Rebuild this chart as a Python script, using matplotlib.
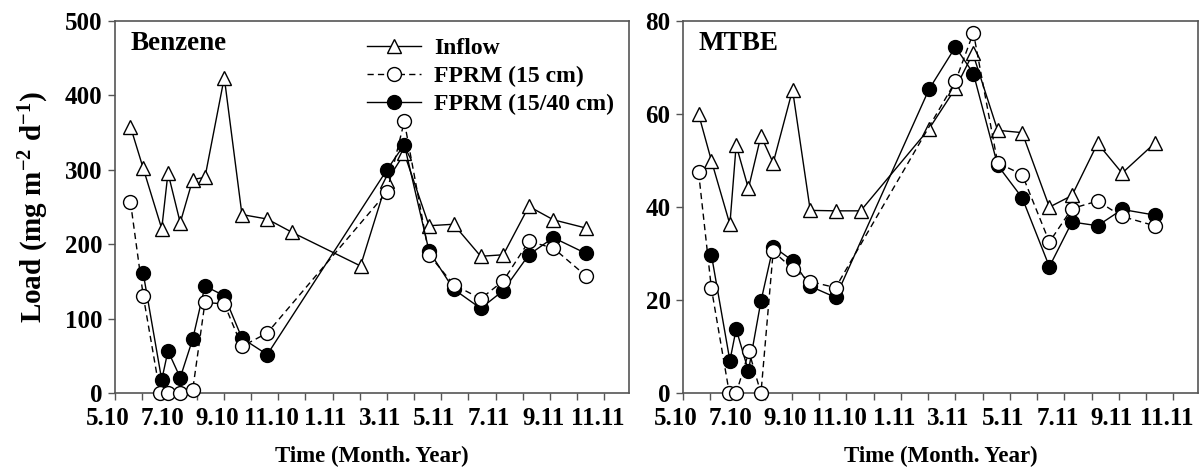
import matplotlib
matplotlib.use('Agg')
import matplotlib.pyplot as plt
import matplotlib.transforms as mtransforms

plt.rcParams['font.family'] = ['Liberation Serif', 'DejaVu Serif']
plt.rcParams['font.weight'] = 'bold'
plt.rcParams['mathtext.fontset'] = 'custom'
plt.rcParams['mathtext.rm'] = 'Liberation Serif:bold'
plt.rcParams['mathtext.bf'] = 'Liberation Serif:bold'
plt.rcParams['mathtext.default'] = 'bf'

# time axis: months counted from the 5.10 tick
month_labels = ['5.10', '7.10', '9.10', '11.10', '1.11', '3.11', '5.11', '7.11', '9.11', '11.11']

# Benzene
bz_in_t = [0.57, 1.04, 1.72, 1.95, 2.40, 2.86, 3.31, 4.02, 4.67, 5.60, 6.52,
           9.03, 10.0, 10.64, 11.55, 12.45, 13.45, 14.28, 15.22, 16.12, 17.31]
bz_in = [358, 302, 221, 296, 229, 287, 290, 424, 240, 234, 216,
         171, 285, 322, 225, 227, 184, 186, 251, 233, 222]

bz_15_t = [0.57, 1.04, 1.66, 1.95, 2.38, 2.86, 3.31, 4.02, 4.67, 5.60,
           10.0, 10.64, 11.55, 12.45, 13.45, 14.28, 15.22, 16.12, 17.31]
bz_15 = [257, 131, 0, 1, 0, 5, 122, 120, 63, 81,
         270, 365, 186, 146, 127, 151, 204, 195, 158]

bz_1540_t = [1.04, 1.72, 1.95, 2.40, 2.86, 3.31, 4.02, 4.67, 5.60,
             10.0, 10.64, 11.55, 12.45, 13.45, 14.28, 15.22, 16.12, 17.31]
bz_1540 = [161, 18, 57, 21, 73, 144, 131, 74, 52,
           300, 334, 191, 140, 114, 138, 186, 209, 188]

# MTBE
mt_in_t = bz_in_t
mt_in = [60, 50, 36.3, 53.3, 44, 55.3, 49.5, 65.2, 39.3, 39.2, 39.2,
         56.8, 65.5, 73, 56.5, 56, 40, 42.5, 53.7, 47.3, 53.7]

mt_15_t = [0.57, 1.04, 1.70, 1.95, 2.42, 2.86, 3.31, 4.02, 4.67, 5.60,
           10.0, 10.66, 11.55, 12.45, 13.45, 14.28, 15.22, 16.12, 17.31]
mt_15 = [47.5, 22.6, 0, 0, 9, 0, 30.5, 26.8, 24, 22.7,
         67, 77.5, 49.5, 47, 32.5, 39.7, 41.3, 38, 36]

mt_1540_t = [1.04, 1.72, 1.95, 2.40, 2.86, 3.31, 4.02, 4.67, 5.60,
             9.03, 10.0, 10.66, 11.55, 12.45, 13.45, 14.28, 15.22, 16.12, 17.31]
mt_1540 = [29.8, 7, 13.8, 4.8, 19.8, 31.5, 28.5, 23, 20.6,
           65.3, 74.4, 68.7, 49, 42, 27.2, 36.8, 36, 39.5, 38.3]

fig = plt.figure(figsize=(12, 4.72), dpi=100)
ax1 = fig.add_axes([0.0958, 0.1667, 0.4283, 0.789])
ax2 = fig.add_axes([0.5692, 0.1667, 0.4290, 0.789])

ms = 10
lw = 1.0


def draw(ax, t_in, v_in, t15, v15, t1540, v1540, ymax, ystep, title):
    h1, = ax.plot(t_in, v_in, '-', color='black', lw=lw, marker='^', ms=ms,
                  mfc='white', mec='black', mew=1, clip_on=False, zorder=3,
                  label='Inflow')
    h3, = ax.plot(t1540, v1540, '-', color='black', lw=lw, marker='o', ms=ms,
                  mfc='black', mec='black', mew=1, clip_on=False, zorder=4,
                  label='FPRM (15/40 cm)')
    h2, = ax.plot(t15, v15, '--', color='black', lw=lw, marker='o', ms=ms,
                  mfc='white', mec='black', mew=1, clip_on=False, zorder=5,
                  dashes=(4.5, 3), label='FPRM (15 cm)')
    ax.set_xlim(0, 18.9)
    ax.set_ylim(0, ymax)
    ax.set_yticks(range(0, ymax + 1, ystep))
    ax.set_xticks(range(19))
    labs = []
    for i in range(19):
        labs.append(month_labels[i // 2] if i % 2 == 0 else '')
    ax.set_xticklabels(labs)
    ax.tick_params(direction='out', length=5, width=1, labelsize=18,
                   color='#555555')
    ax.tick_params(axis='x', pad=5)
    ax.tick_params(axis='y', pad=4)
    shift = mtransforms.ScaledTranslation(-7 / 100, 0, fig.dpi_scale_trans)
    for lab in ax.get_xticklabels():
        lab.set_transform(lab.get_transform() + shift)
    for s in ax.spines.values():
        s.set_color('#555555')
        s.set_linewidth(1.2)
    ax.text(0.03, 0.94, title, transform=ax.transAxes, fontsize=19.5,
            fontweight='bold', va='center', ha='left')
    ax.set_xlabel('Time (Month. Year)', fontsize=16.5, fontweight='bold')
    ax.xaxis.set_label_coords(0.5, -0.14)
    return h1, h2, h3


h1, h2, h3 = draw(ax1, bz_in_t, bz_in, bz_15_t, bz_15, bz_1540_t, bz_1540,
                  500, 100, 'Benzene')
draw(ax2, mt_in_t, mt_in, mt_15_t, mt_15, mt_1540_t, mt_1540, 80, 20, 'MTBE')

ax1.set_ylabel('Load (mg m$^{-2}$ d$^{-1}$)', fontsize=21, fontweight='bold')
ax1.yaxis.set_label_coords(-0.125, 0.5)

ax1.legend(handles=[h1, h2, h3], loc='upper left', bbox_to_anchor=(0.49, 0.956),
           frameon=False, fontsize=17, handlelength=2.3, handletextpad=0.55,
           labelspacing=0.28, borderpad=0, borderaxespad=0)

fig.savefig('out.png', dpi=100)
